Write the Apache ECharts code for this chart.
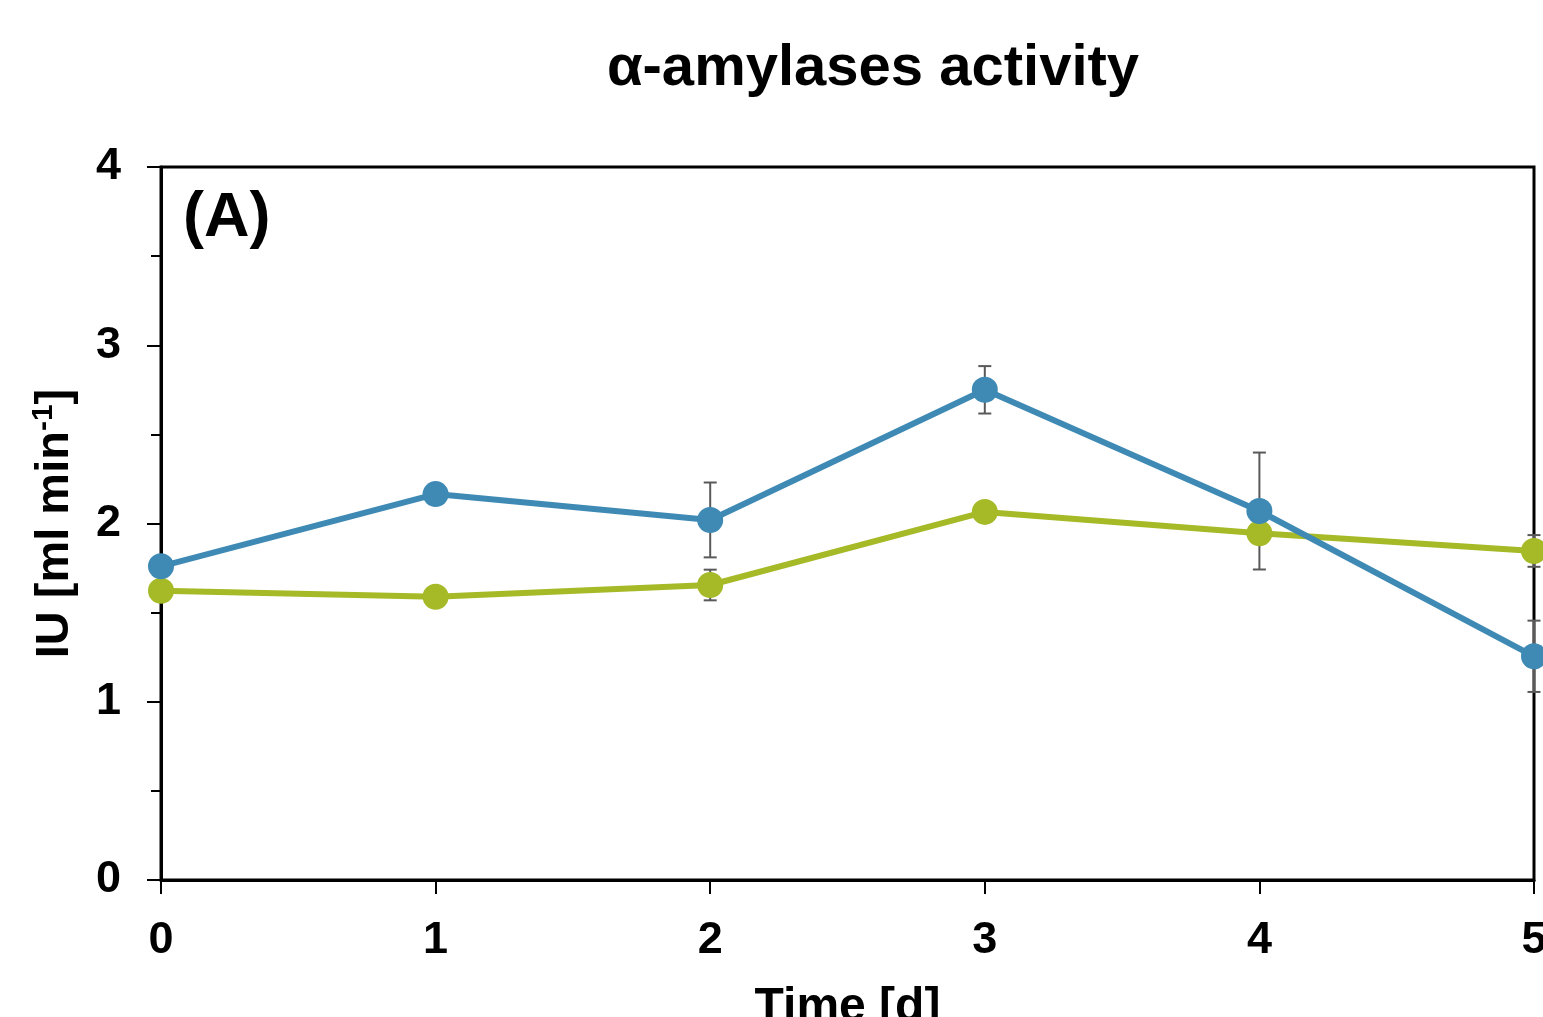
<!DOCTYPE html>
<html>
<head>
<meta charset="utf-8">
<script src="https://cdn.jsdelivr.net/npm/echarts@6/dist/echarts.min.js"></script>
<style>
html,body{margin:0;padding:0;background:#fff;overflow:hidden;}
#chart{width:1543px;height:1017px;}
</style>
</head>
<body>
<div id="chart"></div>
<script>
// Data
var days = [0, 1, 2, 3, 4, 5];
var blueValues = [1.76, 2.165, 2.02, 2.75, 2.07, 1.255];
var blueErrors = [0, 0, 0.21, 0.133, 0.328, 0.2];
var greenValues = [1.623, 1.589, 1.655, 2.065, 1.945, 1.846];
var greenErrors = [0, 0, 0.086, 0, 0, 0.089];
var yTicks = [0, 1, 2, 3, 4];
var xTicks = [0, 1, 2, 3, 4, 5];

var FONT = 'Liberation Sans, Arial, sans-serif';
var BLUE = '#3f8ab5';
var GREEN = '#a6b926';

function pairs(vals) { return days.map(function (d, i) { return [d, vals[i]]; }); }
function errData(vals, errs) {
  var out = [];
  days.forEach(function (d, i) { if (errs[i] > 0) out.push([d, vals[i], errs[i]]); });
  return out;
}

function errRender(params, api) {
  var x = api.value(0), y = api.value(1), e = api.value(2);
  var top = api.coord([x, y + e]);
  var bot = api.coord([x, y - e]);
  var w = 6.5;
  var style = { stroke: '#595959', lineWidth: 2 };
  return {
    type: 'group',
    children: [
      { type: 'line', shape: { x1: top[0], y1: top[1], x2: bot[0], y2: bot[1] }, style: style },
      { type: 'line', shape: { x1: top[0] - w, y1: top[1], x2: top[0] + w, y2: top[1] }, style: style },
      { type: 'line', shape: { x1: bot[0] - w, y1: bot[1], x2: bot[0] + w, y2: bot[1] }, style: style }
    ]
  };
}

var chart = echarts.init(document.getElementById('chart'));
chart.setOption({
  backgroundColor: '#fff',
  animation: false,
  title: {
    text: 'α-amylases activity',
    left: 868,
    textAlign: 'center',
    top: 35,
    textStyle: { fontFamily: FONT, fontWeight: 'bold', fontSize: 58, color: '#000' }
  },
  graphic: [{
    type: 'text',
    left: 183,
    top: 187,
    style: { text: '(A)', fontFamily: FONT, fontWeight: 'bold', fontSize: 63, fill: '#000' }
  }],
  grid: {
    left: 161, right: 9, top: 167, bottom: 137,
    containLabel: false, outerBoundsMode: 'none',
    show: true, borderColor: '#000', borderWidth: 3, backgroundColor: 'transparent'
  },
  xAxis: {
    type: 'value', min: 0, max: 5, interval: 1,
    name: 'Time [d]', nameLocation: 'middle', nameGap: 104,
    nameTextStyle: { fontFamily: FONT, fontWeight: 'bold', fontSize: 48, color: '#000' },
    axisLine: { show: true, lineStyle: { color: '#000', width: 3 } },
    axisTick: { show: true, inside: false, length: 14, lineStyle: { color: '#000', width: 2 } },
    axisLabel: {
      margin: 38, fontFamily: FONT, fontWeight: 'bold', fontSize: 45, color: '#000',
      showMaxLabel: true, showMinLabel: true,
      formatter: function (v) { return xTicks.indexOf(v) >= 0 ? String(v) : ''; }
    },
    splitLine: { show: false }
  },
  yAxis: {
    type: 'value', min: 0, max: 4, interval: 1,
    name: '{n|IU [ml min}{s|-1}{n|]}', nameLocation: 'middle', nameGap: 80,
    nameTextStyle: {
      rich: {
        n: { fontFamily: FONT, fontWeight: 'bold', fontSize: 47, color: '#000', lineHeight: 52 },
        s: { fontFamily: FONT, fontWeight: 'bold', fontSize: 30, color: '#000', verticalAlign: 'top', lineHeight: 52 }
      }
    },
    axisLine: { show: true, lineStyle: { color: '#000', width: 3 } },
    axisTick: { show: true, inside: false, length: 14, lineStyle: { color: '#000', width: 2 } },
    minorTick: { show: true, splitNumber: 2, length: 10, lineStyle: { color: '#000', width: 2 } },
    axisLabel: {
      margin: 40, fontFamily: FONT, fontWeight: 'bold', fontSize: 45, color: '#000',
      formatter: function (v) { return yTicks.indexOf(v) >= 0 ? String(v) : ''; }
    },
    splitLine: { show: false }
  },
  series: [
    {
      type: 'custom', name: 'err-green', renderItem: errRender, data: errData(greenValues, greenErrors),
      encode: { x: 0, y: 1 }, z: 1, clip: false
    },
    {
      type: 'custom', name: 'err-blue', renderItem: errRender, data: errData(blueValues, blueErrors),
      encode: { x: 0, y: 1 }, z: 1, clip: false
    },
    {
      type: 'line', name: 'green', data: pairs(greenValues), z: 2, clip: false,
      symbol: 'circle', symbolSize: 26,
      lineStyle: { color: GREEN, width: 6 }, itemStyle: { color: GREEN, borderWidth: 0 }
    },
    {
      type: 'line', name: 'blue', data: pairs(blueValues), z: 3, clip: false,
      symbol: 'circle', symbolSize: 26,
      lineStyle: { color: BLUE, width: 6 }, itemStyle: { color: BLUE, borderWidth: 0 }
    }
  ]
});
</script>
</body>
</html>
